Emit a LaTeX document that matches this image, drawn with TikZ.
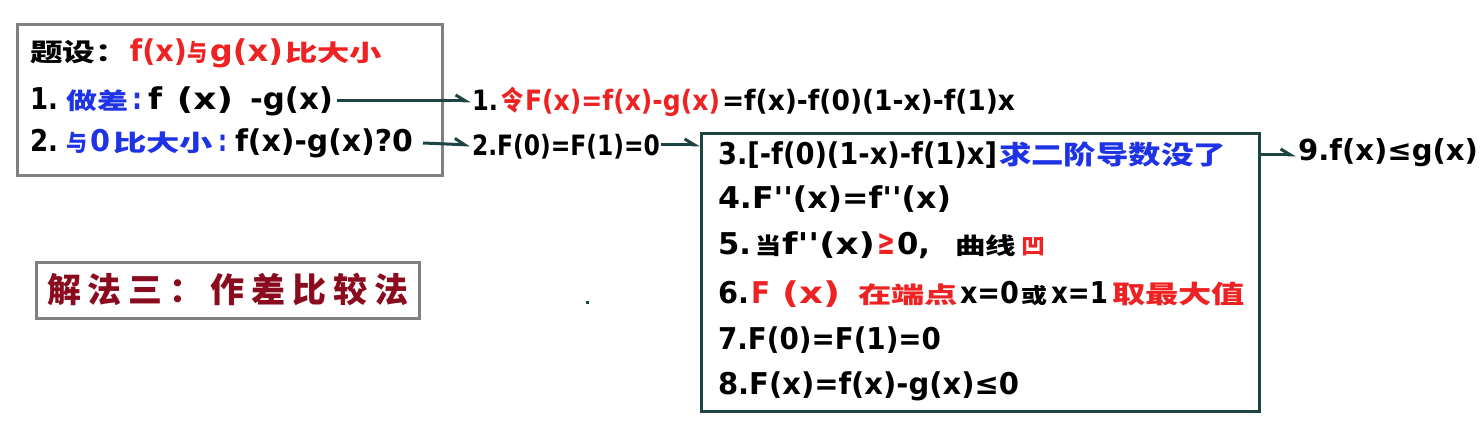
\documentclass[tikz,border=0pt]{standalone}
\usepackage{fontspec}
\usepackage{graphicx}
\usetikzlibrary{arrows.meta}
\newfontfamily\lat{DejaVu Sans}
\newfontfamily\cjk{Noto Sans CJK SC}
\definecolor{myred}{HTML}{EE2222}
\definecolor{myblue}{HTML}{1E32E6}
\definecolor{mydred}{HTML}{8A0A1E}
\definecolor{tealline}{HTML}{1D4343}
\definecolor{grayline}{HTML}{808080}
\newcommand\zh[2]{{\cjk\bfseries\fontsize{#1}{#1}\selectfont #2}}
\newcommand\la[2]{{\lat\bfseries\fontsize{#1}{#1}\selectfont #2}}
\newcommand\fitw[2]{\resizebox{#1}{\height}{#2}}
\newcommand\gap[1]{\kern#1pt\relax}
\tikzset{
  rowtext/.style={anchor=west, inner sep=0pt, outer sep=0pt},
  graybox/.style={draw=grayline, line width=3pt, anchor=north west, inner sep=0pt},
  tealbox/.style={draw=tealline, line width=3pt, anchor=north west, inner sep=0pt},
  conn/.style={draw=tealline, line width=3pt,
    -{Straight Barb[harpoon,length=10pt,width=12pt,line width=3pt]}},
}
\begin{document}
\begin{tikzpicture}[x=1pt,y=-1pt]
\useasboundingbox (0,0) rectangle (1483,435);
\fill[white] (0,0) rectangle (1483,435);

% box 1
\node[graybox, minimum width=425pt, minimum height=151pt] (box1) at (16,23) {};
\node[rowtext] (b1r1) at (30,53) {%
  \fitw{98pt}{\zh{25pt}{题设：}}\gap{2}%
  \textcolor{myred}{\fitw{57pt}{\la{30pt}{f(x)}}\gap{1}\fitw{20pt}{\zh{24pt}{与}}\gap{2}%
  \fitw{73pt}{\la{30pt}{g(x)}}\gap{2}\fitw{97pt}{\zh{23pt}{比大小}}}};
\node[rowtext] (b1r2) at (30,101) {%
  \fitw{28pt}{\la{30pt}{1.}}\gap{8}%
  \textcolor{myblue}{\fitw{62pt}{\zh{23pt}{做差}}\gap{4}\fitw{10pt}{\la{30pt}{:}}}\gap{6}%
  \fitw{14pt}{\la{30pt}{f}}\gap{15}\fitw{56pt}{\la{30pt}{(x)}}\gap{17}\fitw{83pt}{\la{30pt}{-g(x)}}};
\node[rowtext] (b1r3) at (30,143) {%
  \fitw{28pt}{\la{30pt}{2.}}\gap{8}%
  \textcolor{myblue}{\fitw{21pt}{\zh{23pt}{与}}\gap{3}\fitw{20pt}{\la{30pt}{0}}\gap{3}%
  \fitw{100pt}{\zh{23pt}{比大小}}\gap{5}\fitw{9pt}{\la{30pt}{:}}}\gap{8}%
  \fitw{178pt}{\la{30pt}{f(x)-g(x)?0}}};

% middle column
\node[rowtext] (m1) at (472,102) {%
  \fitw{26pt}{\la{28pt}{1.}}\gap{3}%
  \textcolor{myred}{\fitw{22pt}{\zh{27pt}{令}}\gap{2}\fitw{195pt}{\la{28pt}{F(x)=f(x)-g(x)}}}\gap{2}%
  \fitw{293pt}{\la{28pt}{=f(x)-f(0)(1-x)-f(1)x}}};
\node[rowtext] (m2) at (472,147) {\fitw{188pt}{\la{28pt}{2.F(0)=F(1)=0}}};

% box 3
\node[tealbox, minimum width=558pt, minimum height=278pt] (box3) at (700,132) {};
\node[rowtext] (r3) at (718,155) {%
  \fitw{279pt}{\la{30pt}{3.[-f(0)(1-x)-f(1)x]}}\gap{2}%
  \textcolor{myblue}{\fitw{227pt}{\zh{26pt}{求二阶导数没了}}}};
\node[rowtext] (r4) at (718,199) {\fitw{233pt}{\la{30pt}{4.F''(x)=f''(x)}}};
\node[rowtext] (r5) at (718,245) {%
  \fitw{33pt}{\la{30pt}{5.}}\gap{4}\fitw{26pt}{\zh{23pt}{当}}\gap{1}%
  \fitw{93pt}{\la{30pt}{f''(x)}}\gap{2}\textcolor{myred}{\fitw{18pt}{\la{36pt}{≥}}}\gap{2}%
  \fitw{33pt}{\la{30pt}{0,}}\gap{25}\fitw{61pt}{\zh{23pt}{曲线}}\gap{5}%
  \textcolor{myred}{\fitw{24pt}{\zh{22pt}{凹}}}};
\node[rowtext] (r6) at (718,294) {%
  \fitw{31pt}{\la{30pt}{6.}}\gap{2}%
  \textcolor{myred}{\fitw{19pt}{\la{30pt}{F}}\gap{12}\fitw{58pt}{\la{30pt}{(x)}}\gap{18}%
  \fitw{100pt}{\zh{23pt}{在端点}}}\gap{2}%
  \fitw{59pt}{\la{30pt}{x=0}}\gap{2}\fitw{26pt}{\zh{21pt}{或}}\gap{4}%
  \fitw{57pt}{\la{30pt}{x=1}}\gap{4}%
  \textcolor{myred}{\fitw{133pt}{\zh{25pt}{取最大值}}}};
\node[rowtext] (r7) at (718,340) {\fitw{223pt}{\la{30pt}{7.F(0)=F(1)=0}}};
\node[rowtext] (r8) at (718,386) {\fitw{301pt}{\la{30pt}{8.F(x)=f(x)-g(x)≤0}}};

% result
\node[rowtext] (r9) at (1298,153) {\fitw{180pt}{\la{29pt}{9.f(x)≤g(x)}}};

% method box
\node[graybox, minimum width=383pt, minimum height=56pt] (box4) at (35,261) {};
\node[rowtext] (meth) at (47,289) {\textcolor{mydred}{\zh{34pt}{解\kern7pt 法\kern7pt 三\kern7pt ：\kern7pt 作\kern7pt 差\kern7pt 比\kern7pt 较\kern7pt 法}}};

% stray dot
\fill[tealline] (586,301) rectangle (589,304);

% connectors
\draw[conn] ([xshift=4pt]b1r2.east) -- ([xshift=-1pt]m1.west |- b1r2.east);
\draw[conn] ([xshift=10pt]b1r3.east) -- ([xshift=-2pt,yshift=2pt]m2.west);
\draw[conn] ([xshift=1pt,yshift=2pt]m2.east) -- ([yshift=2pt]m2.east -| box3.west);
\draw[conn] ([yshift=-2pt]r9.west -| box3.east) -- ([xshift=-2pt,yshift=-2pt]r9.west);
\end{tikzpicture}
\end{document}
